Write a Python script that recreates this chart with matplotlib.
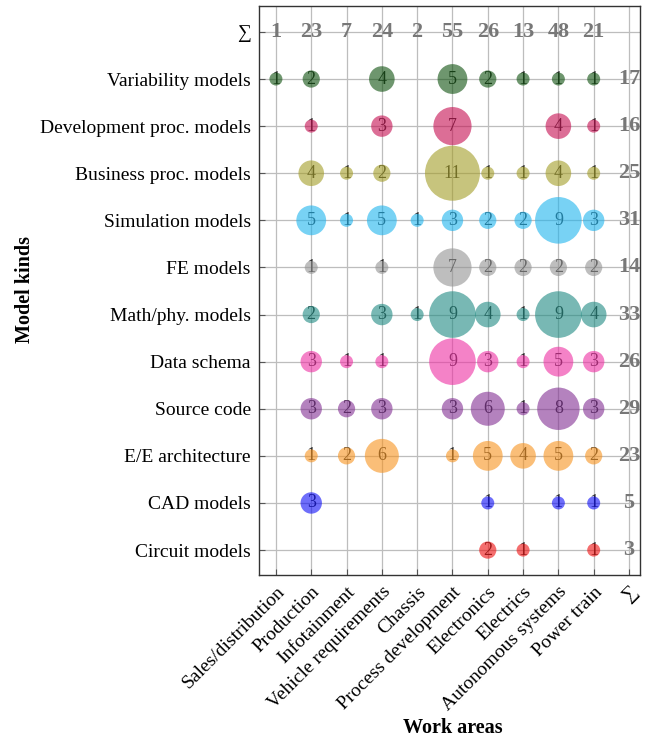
import numpy as np
import matplotlib
matplotlib.use("Agg")
import matplotlib.pyplot as plt

plt.rcParams["font.family"] = ["Liberation Serif", "DejaVu Serif"]

work_areas = ["Sales/distribution", "Production", "Infotainment", "Vehicle requirements",
              "Chassis", "Process development", "Electronics", "Electrics",
              "Autonomous systems", "Power train"]

# top to bottom
model_kinds = ["Variability models", "Development proc. models", "Business proc. models",
               "Simulation models", "FE models", "Math/phy. models", "Data schema",
               "Source code", "E/E architecture", "CAD models", "Circuit models"]

counts = [
    [1, 2, 0, 4, 0, 5, 2, 1, 1, 1],
    [0, 1, 0, 3, 0, 7, 0, 0, 4, 1],
    [0, 4, 1, 2, 0, 11, 1, 1, 4, 1],
    [0, 5, 1, 5, 1, 3, 2, 2, 9, 3],
    [0, 1, 0, 1, 0, 7, 2, 2, 2, 2],
    [0, 2, 0, 3, 1, 9, 4, 1, 9, 4],
    [0, 3, 1, 1, 0, 9, 3, 1, 5, 3],
    [0, 3, 2, 3, 0, 3, 6, 1, 8, 3],
    [0, 1, 2, 6, 0, 1, 5, 4, 5, 2],
    [0, 3, 0, 0, 0, 0, 1, 0, 1, 1],
    [0, 0, 0, 0, 0, 0, 2, 1, 0, 1],
]

# sums as printed in the figure
row_sums = [17, 16, 25, 31, 14, 33, 26, 29, 23, 5, 3]
col_sums = [1, 23, 7, 24, 2, 55, 26, 13, 48, 21]

row_colors = ["#0d500d", "#c50d50", "#a39d26", "#1eb4ee", "#939393", "#1e8a82",
              "#ee2fa3", "#822f93", "#f7931e", "#0d0df7", "#ee0d0d"]

fig = plt.figure(figsize=(6.53, 7.42), dpi=100)
ax = fig.add_axes([0.3966, 0.225, 0.5834, 0.7669])

n_rows = len(model_kinds)
n_cols = len(work_areas)

for i, (name, vals) in enumerate(zip(model_kinds, counts)):
    y = n_rows - 1 - i
    for j, v in enumerate(vals):
        if v == 0:
            continue
        d_px = 8.8 + 4.2 * v
        d_pt = d_px * 0.72
        ax.scatter(j, y, s=d_pt ** 2, color=row_colors[i], alpha=0.6,
                   edgecolors="none", zorder=3)
        ax.text(j, y, str(v), ha="center", va="center", fontsize=13,
                color="#2a2a2a", zorder=2)
    ax.text(n_cols, y, str(row_sums[i]), ha="center", va="center", fontsize=16,
            fontweight="bold", color="#777777", zorder=2)

for j, s in enumerate(col_sums):
    ax.text(j, n_rows, str(s), ha="center", va="center", fontsize=16,
            fontweight="bold", color="#777777", zorder=2)

ax.set_xlim(-0.48, n_cols + 0.31)
ax.set_ylim(-0.53, n_rows + 0.55)

ax.set_xticks(range(n_cols + 1))
ax.set_xticklabels(work_areas + ["\u2211"], rotation=45, ha="right",
                   rotation_mode="anchor", fontsize=14)
ax.set_yticks(range(n_rows + 1))
ax.set_yticklabels(model_kinds[::-1] + ["\u2211"], fontsize=14)

ax.grid(True, color="#bdbdbd", linewidth=0.9, zorder=0)
ax.set_axisbelow(True)
ax.tick_params(direction="in", length=4, color="#555555", pad=6)
for sp in ax.spines.values():
    sp.set_color("#333333")
    sp.set_linewidth(1.0)

fig.text(0.038, 0.61, "Model kinds", rotation=90, ha="center", va="center",
         fontsize=14.5, fontweight="bold")
fig.text(0.693, 0.019, "Work areas", ha="center", va="center",
         fontsize=14.5, fontweight="bold")

fig.savefig("out.png", dpi=100)
